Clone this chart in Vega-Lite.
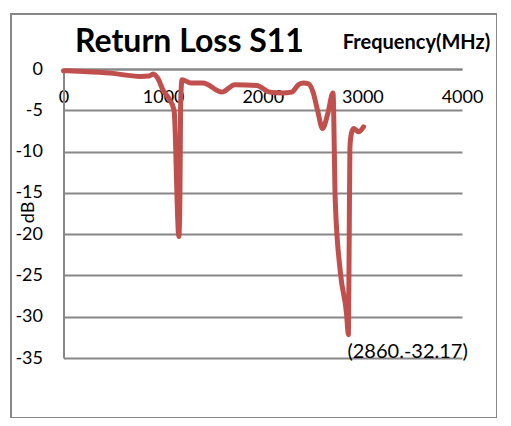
{
  "$schema": "https://vega.github.io/schema/vega-lite/v6.json",
  "width": 486,
  "height": 404,
  "autosize": "none",
  "padding": {"left": 11, "top": 14, "right": 0, "bottom": 0},
  "background": "white",
  "config": {"view": {"stroke": "#878787", "strokeWidth": 2}, "font": "Lato"},
  "title": {"text": "Return Loss S11", "anchor": "start", "frame": "group", "dx": 64, "dy": 32, "offset": -38, "baseline": "alphabetic", "fontSize": 32, "fontWeight": "bold", "font": "Lato", "color": "black"},
  "layer": [
    {
      "data": {"values": [
        {"i": 0, "f": 0, "db": -0.2},
        {"i": 1, "f": 200, "db": -0.3},
        {"i": 2, "f": 470, "db": -0.5},
        {"i": 3, "f": 770, "db": -0.9},
        {"i": 4, "f": 860, "db": -0.85},
        {"i": 5, "f": 900, "db": -0.6},
        {"i": 6, "f": 950, "db": -1.2},
        {"i": 7, "f": 1000, "db": -2.6},
        {"i": 8, "f": 1060, "db": -3.6},
        {"i": 9, "f": 1110, "db": -5.0},
        {"i": 10, "f": 1125, "db": -9},
        {"i": 11, "f": 1138, "db": -15},
        {"i": 12, "f": 1158, "db": -20.3},
        {"i": 13, "f": 1168, "db": -16},
        {"i": 14, "f": 1172, "db": -10},
        {"i": 15, "f": 1176, "db": -4},
        {"i": 16, "f": 1190, "db": -1.3},
        {"i": 17, "f": 1280, "db": -1.7},
        {"i": 18, "f": 1400, "db": -1.7},
        {"i": 19, "f": 1590, "db": -2.8},
        {"i": 20, "f": 1720, "db": -1.9},
        {"i": 21, "f": 1940, "db": -2.0},
        {"i": 22, "f": 2070, "db": -2.8},
        {"i": 23, "f": 2200, "db": -2.9},
        {"i": 24, "f": 2290, "db": -2.8},
        {"i": 25, "f": 2360, "db": -1.9},
        {"i": 26, "f": 2410, "db": -1.7},
        {"i": 27, "f": 2460, "db": -1.8},
        {"i": 28, "f": 2505, "db": -2.8},
        {"i": 29, "f": 2550, "db": -5.0},
        {"i": 30, "f": 2600, "db": -7.2},
        {"i": 31, "f": 2655, "db": -5.3},
        {"i": 32, "f": 2705, "db": -2.9},
        {"i": 33, "f": 2728, "db": -16},
        {"i": 34, "f": 2780, "db": -24.7},
        {"i": 35, "f": 2840, "db": -29.5},
        {"i": 36, "f": 2860, "db": -32.17},
        {"i": 37, "f": 2868, "db": -20},
        {"i": 38, "f": 2875, "db": -9.5},
        {"i": 39, "f": 2890, "db": -7.8},
        {"i": 40, "f": 2912, "db": -7.2},
        {"i": 41, "f": 2962, "db": -7.6},
        {"i": 42, "f": 3012, "db": -7.0}
      ]},
      "mark": {"type": "line", "color": "#C0504D", "strokeWidth": 5, "interpolate": "monotone", "strokeCap": "round", "strokeJoin": "round"},
      "encoding": {
        "x": {
          "field": "f", "type": "quantitative",
          "scale": {"domain": [0, 4000], "range": [52.5, 451], "nice": false, "zero": false},
          "axis": {
            "orient": "top", "offset": -55, "values": [0, 1000, 2000, 3000, 4000],
            "labelExpr": "datum.value + ''", "grid": false, "ticks": false, "tickSize": 0,
            "domainColor": "#878787", "domainWidth": 2,
            "labelBaseline": "middle", "labelPadding": -28, "labelFontSize": 18, "labelFont": "Lato", "labelColor": "black", "labelFlush": false, "labelOverlap": false,
            "title": "Frequency(MHz)", "titleX": 405, "titleY": -21, "titleAlign": "center", "titleBaseline": "alphabetic",
            "titleFontSize": 20, "titleFontWeight": "bold", "titleFont": "Lato", "titleColor": "black"
          }
        },
        "y": {
          "field": "db", "type": "quantitative",
          "scale": {"domain": [-35, 0], "range": [344, 55], "nice": false, "zero": false},
          "axis": {
            "orient": "left", "offset": -52.5, "values": [-35, -30, -25, -20, -15, -10, -5, 0],
            "labelExpr": "datum.value + ''", "grid": true, "gridColor": "#878787", "gridWidth": 2,
            "ticks": false, "tickSize": 0, "domainColor": "#878787", "domainWidth": 2,
            "labelPadding": 21, "labelFontSize": 18, "labelFont": "Lato", "labelColor": "black", "labelFlush": false, "labelBaseline": "middle", "labelOverlap": false,
            "title": "dB", "titleX": -35.5, "titleY": 198, "titleAngle": 270, "titleAlign": "center", "titleBaseline": "middle",
            "titleFontSize": 18, "titleFontWeight": "normal", "titleFont": "Lato", "titleColor": "black"
          }
        },
        "order": {"field": "i"}
      }
    },
    {
      "data": {"values": [{"f": 2860, "db": -32.17, "label": "(2860.-32.17)"}]},
      "mark": {"type": "text", "align": "left", "baseline": "middle", "dx": -1, "dy": 17, "fontSize": 20, "font": "Lato", "color": "black"},
      "encoding": {
        "x": {"field": "f", "type": "quantitative"},
        "y": {"field": "db", "type": "quantitative"},
        "text": {"field": "label"}
      }
    }
  ]
}
